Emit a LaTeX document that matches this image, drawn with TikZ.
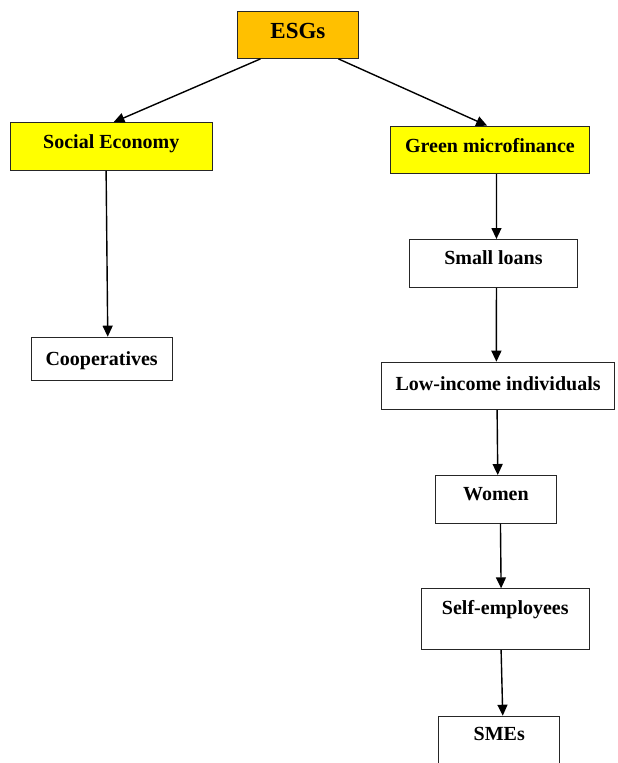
\documentclass[tikz,border=0pt]{standalone}
\usepackage{fontspec}
\setmainfont{Liberation Serif}
\usetikzlibrary{arrows.meta}
\definecolor{esgorange}{HTML}{FFC000}
\definecolor{boxyellow}{HTML}{FFFF00}
\begin{document}
\begin{tikzpicture}[x=1bp,y=-1bp,
  box/.style={draw=black!85, line width=0.9bp, inner sep=0pt, anchor=north west,
    font=\bfseries\fontsize{20bp}{24bp}\selectfont},
  arr/.style={-{Triangle[length=11bp,width=10bp]}, line width=1.4bp, black}]
\useasboundingbox (0,0) rectangle (618,763);
\clip (0,0) rectangle (618,763);
\node[box, fill=esgorange, minimum width=121bp, text height=27.5bp, text depth=19.5bp,
  font=\bfseries\fontsize{23bp}{27bp}\selectfont] (esg) at (237,11) {ESGs};
\node[box, fill=boxyellow, minimum width=201.7bp, text height=25.9bp, text depth=21.8bp] (soc) at (10,122.3) {Social Economy};
\node[box, fill=boxyellow, minimum width=199bp, text height=26.5bp, text depth=21.1bp] (green) at (390,125.7) {Green microfinance};
\node[box, minimum width=168bp, text height=24.9bp, text depth=23.1bp] (small) at (409,239) {Small loans};
\node[box, minimum width=141bp, text height=28.2bp, text depth=15.1bp] (coop) at (30.7,336.7) {Cooperatives};
\node[box, minimum width=233.3bp, text height=28.2bp, text depth=19.4bp] (low) at (381,361.7) {Low-income individuals};
\node[box, minimum width=121bp, text height=24.9bp, text depth=22.8bp] (women) at (435,475) {Women};
\node[box, minimum width=168.3bp, text height=25.6bp, text depth=35.4bp] (self) at (420.7,588.3) {Self-employees};
\node[box, minimum width=121bp, text height=24.2bp, text depth=25.8bp] (smes) at (438.3,715.7) {SMEs};
\draw[arr] ([xshift=-37.5bp]esg.south) -- ([xshift=2.2bp]soc.north);
\draw[arr] ([xshift=40.5bp]esg.south) -- ([xshift=-2.8bp]green.north);
\draw[arr] ([xshift=-5.2bp]soc.south) -- ([xshift=6.1bp]coop.north);
\draw[arr] ([xshift=6.5bp]green.south) -- ([xshift=3bp]small.north);
\draw[arr] ([xshift=3bp]small.south) -- ([xshift=-1.7bp]low.north);
\draw[arr] ([xshift=-1bp]low.south) -- ([xshift=1.8bp]women.north);
\draw[arr] ([xshift=4.5bp]women.south) -- ([xshift=-4.2bp]self.north);
\draw[arr] ([xshift=-4.2bp]self.south) -- ([xshift=3.5bp]smes.north);
\end{tikzpicture}
\end{document}
